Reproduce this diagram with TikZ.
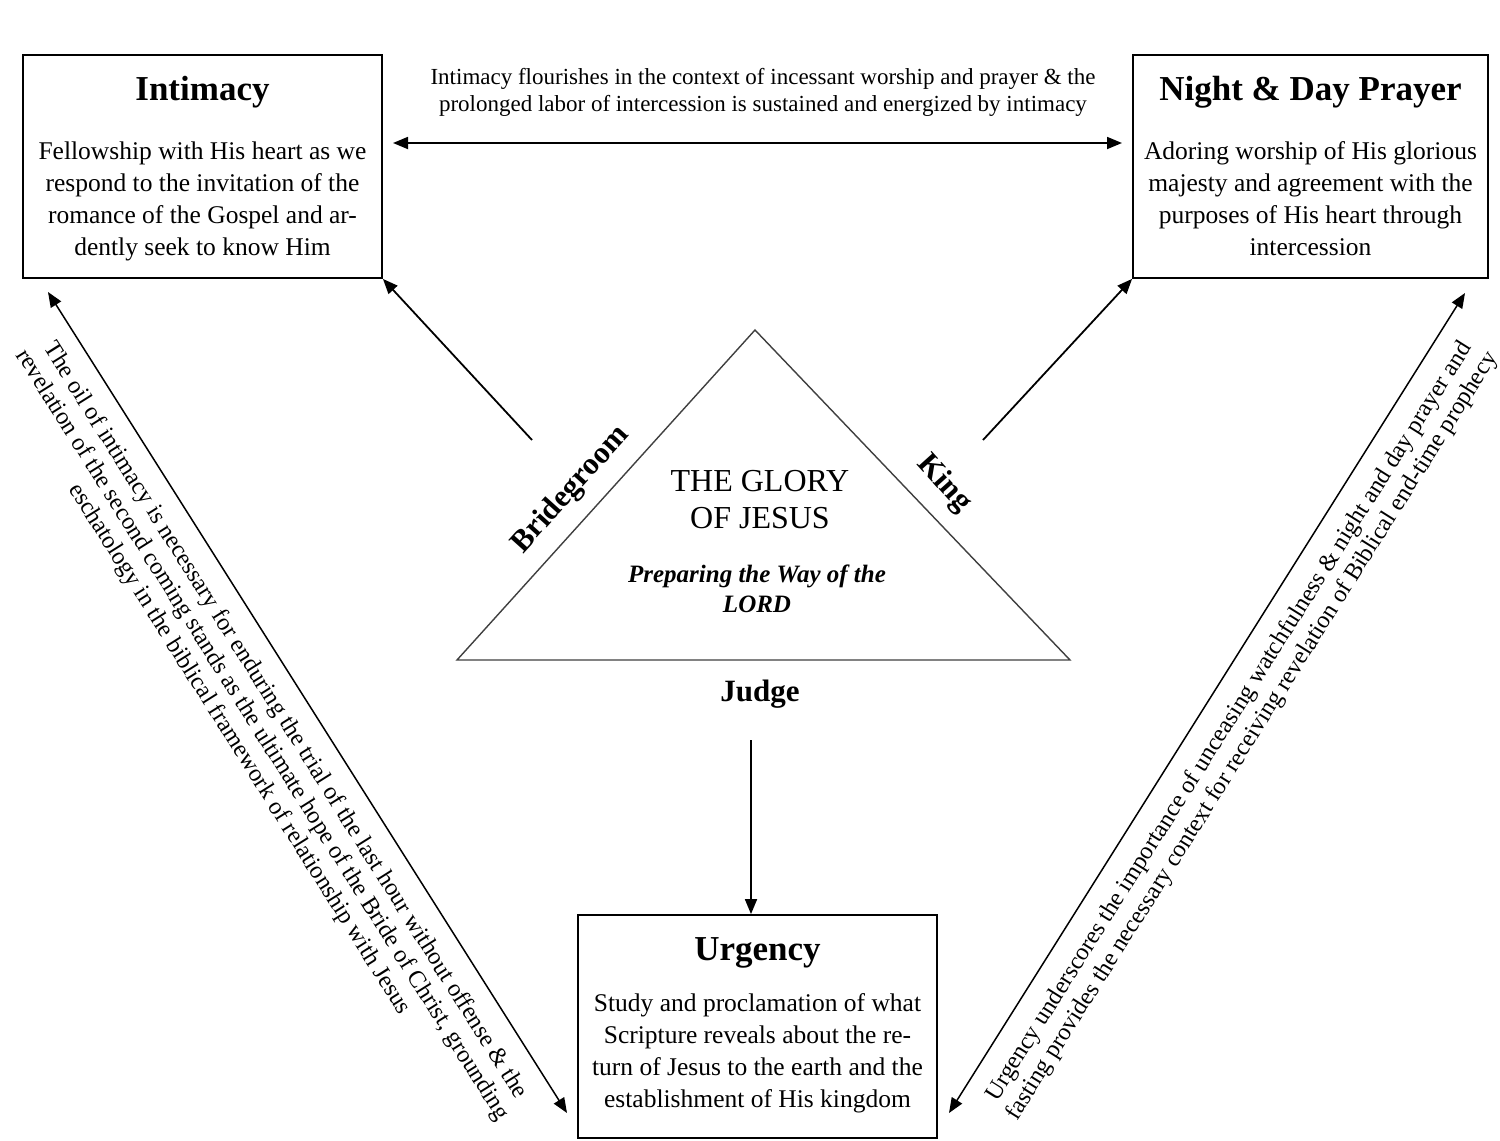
\documentclass[tikz,border=0pt]{standalone}
\usepackage{fontspec}
\setmainfont{Liberation Serif}
\usetikzlibrary{arrows.meta}
\tikzset{
  box/.style={draw, line width=1.8pt, inner sep=0pt},
  ttl/.style={font=\fontsize{35}{40}\selectfont\bfseries, anchor=base, inner sep=0pt},
  bodytxt/.style={font=\fontsize{25.5}{31.7}\selectfont, align=center, anchor=base, inner sep=0pt},
  conn/.style={line width=1.8pt, -{Triangle[length=15pt,width=12pt]}},
  dconn/.style={line width=1.5pt, {Triangle[length=15pt,width=12pt]}-{Triangle[length=15pt,width=12pt]}},
  diagtxt/.style={font=\fontsize{24.3}{27}\selectfont, align=center, inner sep=0pt},
  side/.style={font=\fontsize{31}{36}\selectfont\bfseries, inner sep=0pt},
  toptxt/.style={font=\fontsize{23}{27}\selectfont, align=center, anchor=base, inner sep=0pt},
  tri/.style={line width=1.4pt, draw=black!75},
}
\begin{document}
\begin{tikzpicture}[x=1pt,y=-1pt]
\useasboundingbox[fill=white] (0,0) rectangle (1500,1141);

% boxes
\node[box, minimum width=359pt, minimum height=223pt] (intim) at (202.5,166.5) {};
\node[box, minimum width=355pt, minimum height=223pt] (night) at (1310.5,166.5) {};
\node[box, minimum width=359pt, minimum height=223pt] (urg) at (757.5,1026.5) {};

\node[ttl] (intimT) at (202.5,100) {Intimacy};
\node[bodytxt] (intimB) at (202.5,255) {Fellowship with His heart as we\\respond to the invitation of the\\romance of the Gospel and ar-\\dently seek to know Him};

\node[ttl] (nightT) at (1310.5,100) {Night \& Day Prayer};
\node[bodytxt] (nightB) at (1310.5,255) {Adoring worship of His glorious\\majesty and agreement with the\\purposes of His heart through\\intercession};

\node[ttl] (urgT) at (757.5,960) {Urgency};
\node[bodytxt] (urgB) at (757.5,1107) {Study and proclamation of what\\Scripture reveals about the re-\\turn of Jesus to the earth and the\\establishment of His kingdom};

% top label and arrow
\node[toptxt] (topT) at (763,111) {Intimacy flourishes in the context of incessant worship and prayer \& the\\prolonged labor of intercession is sustained and energized by intimacy};
\coordinate (topL) at (393,143);
\coordinate (topR) at (1122,143);
\draw[dconn, line width=1.8pt] (topL) -- (topR);

% triangle
\coordinate (apex) at (755,330);
\coordinate (bl) at (457,660);
\coordinate (br) at (1070,660);
\draw[tri] (apex) -- (bl) -- (br) -- cycle;

\node[font=\fontsize{32}{37}\selectfont, align=center, inner sep=0pt] (glory) at (760,500) {THE GLORY\\OF JESUS};
\node[font=\fontsize{25}{30}\selectfont\bfseries\itshape, align=center, inner sep=0pt] (prep) at (757,589) {Preparing the Way of the\\LORD};

\node[side, rotate=48] (bride) at (571,490) {Bridegroom};
\node[side, rotate=-48] (king) at (944,484) {King};
\node[side] (judge) at (760,694) {Judge};

% connectors from triangle
\coordinate (bgA) at (532,440);
\coordinate (kgA) at (983,440);
\coordinate (jdA) at (751,740);
\draw[conn] (bgA) -- (intim.south east);
\draw[conn] (kgA) -- (night.south west);
\draw[conn] (jdA) -- (jdA |- urg.north);

% long diagonals
\coordinate (lt) at (48,292);
\coordinate (lb) at (567,1113);
\coordinate (rt) at (1465,293);
\coordinate (rb) at (949,1113);
\draw[dconn] (lt) -- (lb);
\draw[dconn] (rt) -- (rb);

\node[diagtxt, rotate=-57.8] (ltxt) at (262,735) {The oil of intimacy is necessary for enduring the trial of the last hour without offense \& the\\revelation of the second coming stands as the ultimate hope of the Bride of Christ, grounding\\eschatology in the biblical framework of relationship with Jesus};
\node[diagtxt, rotate=57.8] (rtxt) at (1241,729) {Urgency underscores the importance of unceasing watchfulness \& night and day prayer and\\fasting provides the necessary context for receiving revelation of Biblical end-time prophecy};
\end{tikzpicture}
\end{document}
